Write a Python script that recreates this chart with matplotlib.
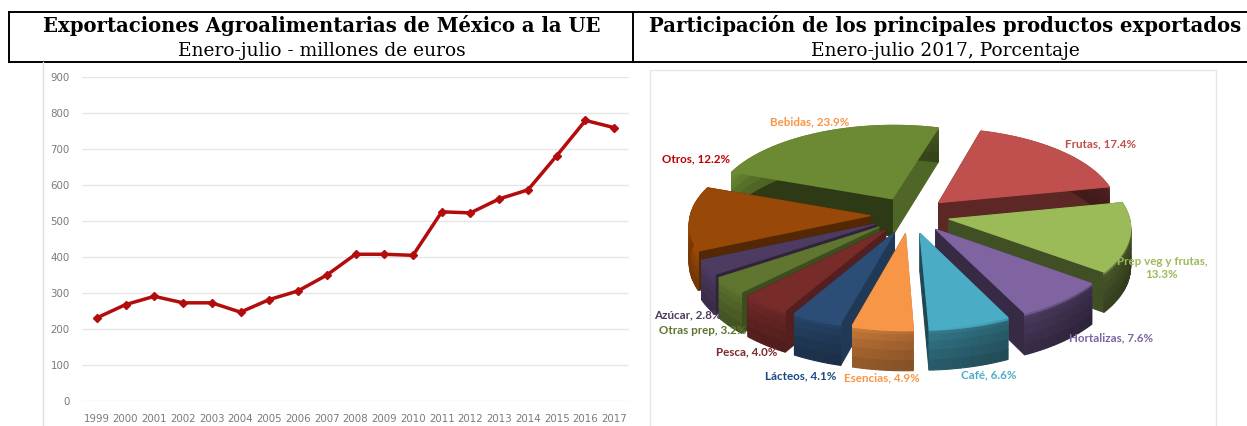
import matplotlib
matplotlib.use("Agg")
import matplotlib.pyplot as plt
import numpy as np

years = [str(y) for y in range(1999, 2018)]
exports = [231, 268, 291, 273, 273, 247, 282, 306, 350, 408, 408, 405, 526, 523, 562, 587, 682, 780, 760]
y_ticks = [0, 100, 200, 300, 400, 500, 600, 700, 800, 900]

products = ['Frutas', 'Prep veg y frutas', 'Hortalizas', 'Café', 'Esencias', 'Lácteos',
            'Pesca', 'Otras prep', 'Azúcar', 'Otros', 'Bebidas']
shares = [17.4, 13.3, 7.6, 6.6, 4.9, 4.1, 4.0, 3.2, 2.8, 12.2, 23.9]

slice_colors = ['#c0504d', '#9bbb59', '#8064a2', '#4bacc6', '#f79646', '#2c4d75',
                '#772c2a', '#5f7530', '#4d3b62', '#984807', '#6b8a33']
label_colors = ['#c0504d', '#9bbb59', '#8064a2', '#4bacc6', '#f79646', '#1f497d',
                '#772c2a', '#5f7530', '#4d3b62', '#c00000', '#f79646']
label_pos = [(1101, 144), (1162, 268), (1111, 338), (989, 375), (882, 378), (801, 376),
             (747, 352), (703, 330), (688, 315), (696, 159), (810, 122)]

W, H = 1247, 426
fig = plt.figure(figsize=(W / 100, H / 100), dpi=100)

# overlay in pixel coordinates, for header and pie
ov = fig.add_axes([0, 0, 1, 1])
ov.set_xlim(0, W)
ov.set_ylim(H, 0)
ov.axis('off')

# header boxes
ov.plot([9, 1247], [12, 12], color='black', lw=1.4)
ov.plot([9, 1247], [61.5, 61.5], color='black', lw=1.4)
ov.plot([9, 9], [12, 61.5], color='black', lw=1.4)
ov.plot([633, 633], [12, 61.5], color='black', lw=1.4)
ov.text(322, 25.5, 'Exportaciones Agroalimentarias de México a la UE', family='DejaVu Serif',
        weight='bold', fontsize=14.1, ha='center', va='center')
ov.text(322, 50.5, 'Enero-julio - millones de euros', family='DejaVu Serif',
        fontsize=13.4, ha='center', va='center')
ov.text(945.5, 25.5, 'Participación de los principales productos exportados', family='DejaVu Serif',
        weight='bold', fontsize=14.1, ha='center', va='center')
ov.text(945.5, 50.5, 'Enero-julio 2017, Porcentaje', family='DejaVu Serif',
        fontsize=13.4, ha='center', va='center')

# panel borders
ov.plot([43, 43], [62, H], color='#e0e0e0', lw=1)
ov.plot([650, 650, 1216, 1216], [H, 70, 70, H], color='#e6e6e6', lw=1)

# line chart
ax = fig.add_axes([82.4 / W, (H - 401) / H, 546.2 / W, 323.7 / H])
ax.patch.set_alpha(0)
x = np.arange(len(years))
ax.plot(x, exports, color='#b30c0c', lw=2.5, marker='D', ms=4.2, clip_on=False, zorder=3)
ax.set_xlim(-0.5, len(years) - 0.5)
ax.set_ylim(0, 900)
ax.set_yticks(y_ticks)
ax.set_xticks(x)
ax.set_xticklabels(years)
ax.grid(axis='y', color='#e6e6e6', lw=1)
ax.set_axisbelow(True)
ax.tick_params(length=0, labelsize=7.4, labelcolor='#7a7a7a', pad=9)
for s in ax.spines.values():
    s.set_visible(False)

# 3D exploded pie, built from the shares
cx, cy = 910, 215
R, Rk = 180, 84
persp = 0.09
explode = 0.22
depth = 38
start = 16.0


def project(u, v, down=0.0):
    s = 1 + persp * v
    return cx + R * u * s, cy + Rk * v * s + down * s


def shade(col, f):
    return tuple(np.clip(np.array(matplotlib.colors.to_rgb(col)) * f, 0, 1))


def quad(p, col, z):
    ov.fill([q[0] for q in p], [q[1] for q in p], color=col, lw=0.8, zorder=z)


angles = start + np.cumsum([0] + shares) * 3.6
mids = (angles[:-1] + angles[1:]) / 2
order = sorted(range(len(shares)), key=lambda i: -np.cos(np.radians(mids[i])))

z = 5
for i in order:
    a0, a1 = np.radians(angles[i]), np.radians(angles[i + 1])
    m = np.radians(mids[i])
    ou, ov_ = explode * np.sin(m), -explode * np.cos(m)
    th = np.linspace(a0, a1, max(6, int(shares[i] * 3)))
    us = ou + np.sin(th)
    vs = ov_ - np.cos(th)
    col = slice_colors[i]

    # cut faces
    walls = [(a0, -np.cos(a0), us[0], vs[0]), (a1, np.cos(a1), us[-1], vs[-1])]
    walls.sort(key=lambda w: w[3])
    for a, nx, eu, ev in walls:
        p = [project(ou, ov_), project(eu, ev), project(eu, ev, depth), project(ou, ov_, depth)]
        quad(p, shade(col, 0.42 + 0.33 * max(0, nx)), z)
        z += 1

    # outer rim, dark on the right side, with a light band along the top
    bands = np.array([0, 3, 6, 12, 20, 29, depth])
    for j in range(len(th) - 1):
        lit = 0.78 - 0.34 * np.sin(th[j])
        for b in range(len(bands) - 1):
            f = lit * (1 - 0.06 * b)
            if b == 0:
                f = min(1.0, lit + 0.25)
            p = [project(us[j], vs[j], bands[b]), project(us[j + 1], vs[j + 1], bands[b]),
                 project(us[j + 1], vs[j + 1], bands[b + 1]), project(us[j], vs[j], bands[b + 1])]
            quad(p, shade(col, f), z)
    z += 1

    # top face
    pts = [project(ou, ov_)] + [project(a, b) for a, b in zip(us, vs)]
    quad(pts, col, z)
    z += 1

for i in range(len(products)):
    name = products[i]
    txt = f'{name}, {shares[i]}%'
    if name == 'Prep veg y frutas':
        txt = f'{name},\n{shares[i]}%'
    ov.text(label_pos[i][0], label_pos[i][1], txt, color=label_colors[i], family='Lato', weight='bold',
            fontsize=8.4, ha='center', va='center', zorder=z + 1)

fig.savefig('out.png', dpi=100)
